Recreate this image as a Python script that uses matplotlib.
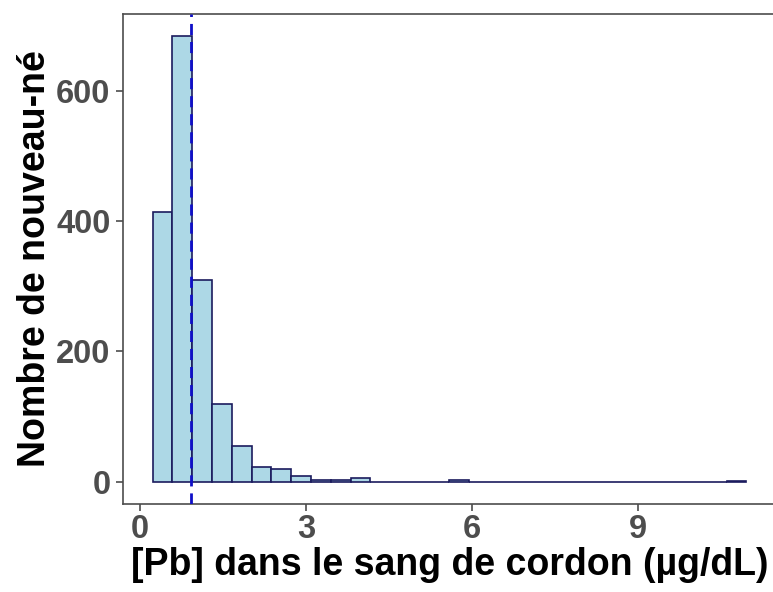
import numpy as np
import matplotlib.pyplot as plt

# histogram (30 bins, like ggplot default)
x_min = 0.23
x_max = 10.95
n_bins = 30
counts = [414, 683, 309, 119, 55, 22, 19, 8, 3, 2,
          5, 0, 0, 0, 0, 2, 0, 0, 0, 0,
          0, 0, 0, 0, 0, 0, 0, 0, 0, 1]
mediane = 0.917

x_ticks = [0, 3, 6, 9]
y_ticks = [0, 200, 400, 600]
x_titre = "[Pb] dans le sang de cordon (µg/dL)"
y_titre = "Nombre de nouveau-né"

plt.rcParams['font.family'] = ['Liberation Sans', 'DejaVu Sans']

largeur = (x_max - x_min) / n_bins
bords = x_min + largeur * np.arange(n_bins + 1)

fig = plt.figure(figsize=(7.73, 5.92), dpi=100)
# the right border of the panel falls just outside the image, like the original
ax = fig.add_axes([0.159, 0.149, 0.845, 0.827])

ax.bar(bords[:-1], counts, width=largeur, align='edge',
       color='#ADD8E6', edgecolor='#1b1b5e', linewidth=1.2, zorder=2)
ax.axvline(mediane, color='#0f0fc8', linestyle=(0, (4, 2.5)), linewidth=2, zorder=3)

etendue = x_max - x_min
ax.set_xlim(x_min - 0.05 * etendue, x_max + 0.05 * etendue)
ax.set_ylim(-0.05 * max(counts), 1.05 * max(counts))

ax.set_xticks(x_ticks)
ax.set_yticks(y_ticks)
ax.tick_params(axis='both', colors='#4D4D4D', labelsize=23.5, length=5, width=1.2)
for lab in ax.get_xticklabels() + ax.get_yticklabels():
    lab.set_fontweight('bold')
ax.tick_params(axis='x', pad=2)
ax.tick_params(axis='y', pad=4)

for s in ax.spines.values():
    s.set_color('#4D4D4D')
    s.set_linewidth(1.2)
ax.spines['right'].set_visible(False)

ax.set_xlabel(x_titre, fontsize=27, fontweight='bold', color='black', labelpad=2)
ax.set_ylabel(y_titre, fontsize=27, fontweight='bold', color='black', labelpad=2)

fig.savefig('out.png', dpi=100)
